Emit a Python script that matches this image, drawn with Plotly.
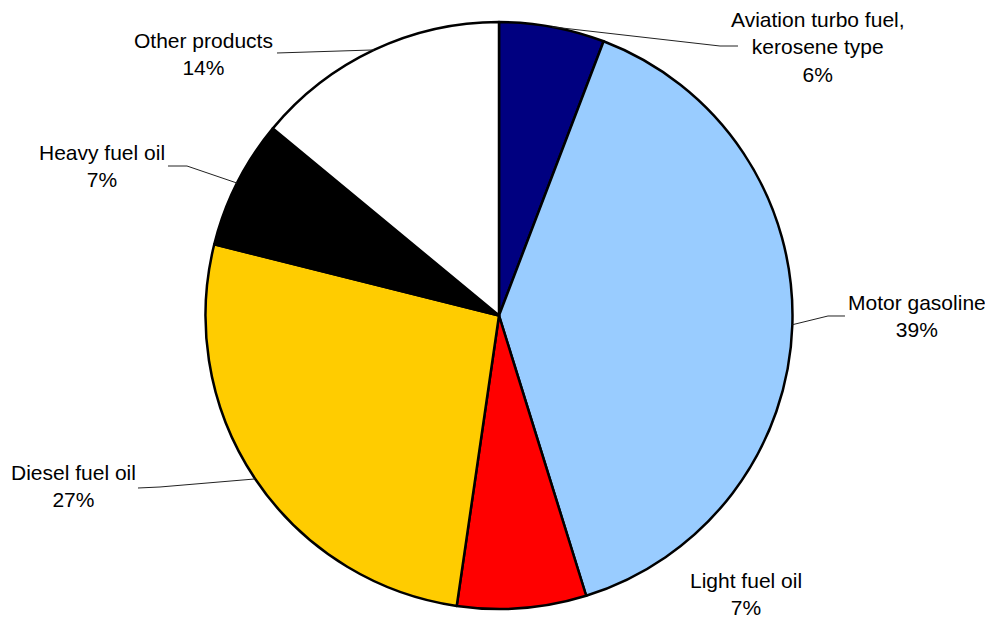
import math
import plotly.graph_objects as go

# ---- data ----
categories = ["Aviation turbo fuel,<br>kerosene type", "Motor gasoline", "Light fuel oil",
              "Diesel fuel oil", "Heavy fuel oil", "Other products"]
values = [5.8, 39.4, 7.1, 26.6, 7.1, 14.0]
colors = ["#000080", "#99CCFF", "#FF0000", "#FFCC00", "#000000", "#FFFFFF"]

# ---- layout geometry (page pixels; page has an 8px body offset) ----
OFF = 8
W, H = 985, 612
ML, MR, MT, MB = 0, 3, 14, 11
PW, PH = W - ML - MR, H - MT - MB
CX, CY = ML + PW / 2, MT + PH / 2
R = min(PW, PH) / 2

def px2paper(x, y):
    # x, y given in page pixels
    x, y = x - OFF, y - OFF
    return (x - ML) / PW, (H - MB - y) / PH

def fig2page(x, y):
    return x + OFF, y + OFF

# label text centres (page pixels) and leader elbows (None = no leader)
label_pos = [(818, 47), (917, 316), (746, 594), (73, 486), (102, 166), (203, 54)]
elbows = [[(720, 46), (738, 46)], [(828, 316), (845, 316)], None,
          [(160, 487), (138, 488)], [(187, 166), (168, 166)], [(277, 53)]]

fig = go.Figure(go.Pie(
    labels=categories, values=values, sort=False, direction="clockwise", rotation=0,
    marker=dict(colors=colors, line=dict(color="black", width=2.5)),
    textinfo="none", hoverinfo="label+percent", showlegend=False,
))

total = sum(values)
cum = 0.0
shapes, annotations = [], []
for lab, v, pos, elb in zip(categories, values, label_pos, elbows):
    mid = (cum + v / 2) / total * 2 * math.pi
    cum += v
    ex, ey = fig2page(CX + R * math.sin(mid), CY - R * math.cos(mid))
    if elb:
        pts = [(ex, ey)] + elb
        path = ""
        for i, (x, y) in enumerate(pts):
            px_, py_ = px2paper(x, y)
            path += ("M" if i == 0 else " L") + f"{px_:.5f},{py_:.5f}"
        shapes.append(dict(type="path", xref="paper", yref="paper", path=path,
                           line=dict(color="#222", width=1)))
    ax_, ay_ = px2paper(*pos)
    pct = round(v / total * 100)
    annotations.append(dict(x=ax_, y=ay_, xref="paper", yref="paper", showarrow=False,
                            text=f"{lab}<br>{pct}%", xanchor="center", yanchor="middle",
                            align="center",
                            font=dict(family="Liberation Sans, Arial", size=21, color="black")))

fig.update_layout(
    width=W, height=H, margin=dict(l=ML, r=MR, t=MT, b=MB),
    paper_bgcolor="white", plot_bgcolor="white",
    shapes=shapes, annotations=annotations,
)
fig.write_html("out.html")
